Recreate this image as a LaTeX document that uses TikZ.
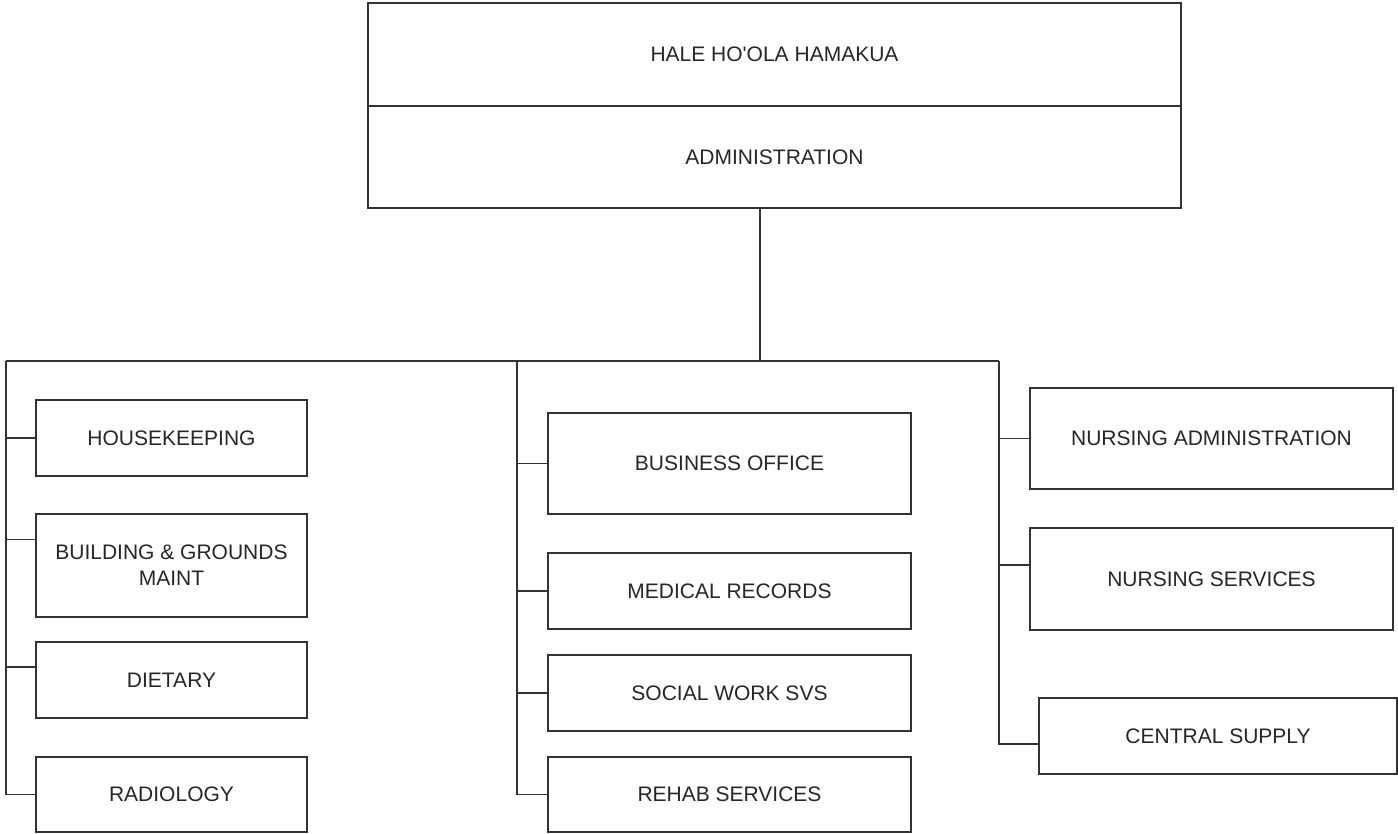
\documentclass[tikz,border=0pt]{standalone}
\usepackage{fontspec}
\setmainfont{Liberation Sans}
\usepackage{tikz}

\tikzset{
  unit/.style={draw=black!80, line width=1.8pt, inner sep=0pt, align=center,
    text=black!85, font=\fontsize{21}{26}\selectfont},
  link/.style={draw=black!80, line width=1.8pt}
}

\begin{document}
\begin{tikzpicture}[x=1pt, y=-1pt]

    \useasboundingbox (0,0) rectangle (1398,833);

    % head office
    \node[unit, minimum width=813pt, minimum height=103pt] (title) at (774.5, 54.5) {HALE HO\textquotesingle OLA HAMAKUA};
    \node[unit, minimum width=813pt, minimum height=102pt] (admin) at (774.5, 157) {ADMINISTRATION};

    % bus
    \coordinate (hub) at (760, 361);
    \coordinate (lbus) at (6, 361);
    \coordinate (mbus) at (517, 361);
    \coordinate (rbus) at (999, 361);

    % left column
    \node[unit, minimum width=271pt, minimum height=76pt] (hk) at (171.5, 438) {HOUSEKEEPING};
    \node[unit, minimum width=271pt, minimum height=103pt] (bg) at (171.5, 565.5) {BUILDING \& GROUNDS\\MAINT};
    \node[unit, minimum width=271pt, minimum height=76pt] (diet) at (171.5, 680) {DIETARY};
    \node[unit, minimum width=271pt, minimum height=75pt] (rad) at (171.5, 794.5) {RADIOLOGY};

    % middle column
    \node[unit, minimum width=363pt, minimum height=101pt] (bo) at (729.5, 463.5) {BUSINESS OFFICE};
    \node[unit, minimum width=363pt, minimum height=76pt] (mr) at (729.5, 591) {MEDICAL RECORDS};
    \node[unit, minimum width=363pt, minimum height=76pt] (sw) at (729.5, 693) {SOCIAL WORK SVS};
    \node[unit, minimum width=363pt, minimum height=75pt] (rs) at (729.5, 794.5) {REHAB SERVICES};

    % right column
    \node[unit, minimum width=363pt, minimum height=101pt] (na) at (1211.5, 438.5) {NURSING ADMINISTRATION};
    \node[unit, minimum width=363pt, minimum height=102pt] (ns) at (1211.5, 579) {NURSING SERVICES};
    \node[unit, minimum width=358pt, minimum height=76pt] (cs) at (1218, 736) {CENTRAL SUPPLY};

    \draw[link] (hub |- admin.south) -- (hub);
    \draw[link] (lbus) -- (rbus);

    \draw[link] (lbus) |- (rad.west);
    \draw[link] (lbus |- hk.west) -- (hk.west);
    \draw[link] ([yshift=26pt]bg.west -| lbus) -- ([yshift=26pt]bg.west);
    \draw[link] ([yshift=13pt]diet.west -| lbus) -- ([yshift=13pt]diet.west);

    \draw[link] (mbus) |- (rs.west);
    \draw[link] (mbus |- bo.west) -- (bo.west);
    \draw[link] (mbus |- mr.west) -- (mr.west);
    \draw[link] (mbus |- sw.west) -- (sw.west);

    \draw[link] (rbus) |- ([yshift=-8pt]cs.west);
    \draw[link] (rbus |- na.west) -- (na.west);
    \draw[link] ([yshift=14pt]ns.west -| rbus) -- ([yshift=14pt]ns.west);

\end{tikzpicture}
\end{document}
